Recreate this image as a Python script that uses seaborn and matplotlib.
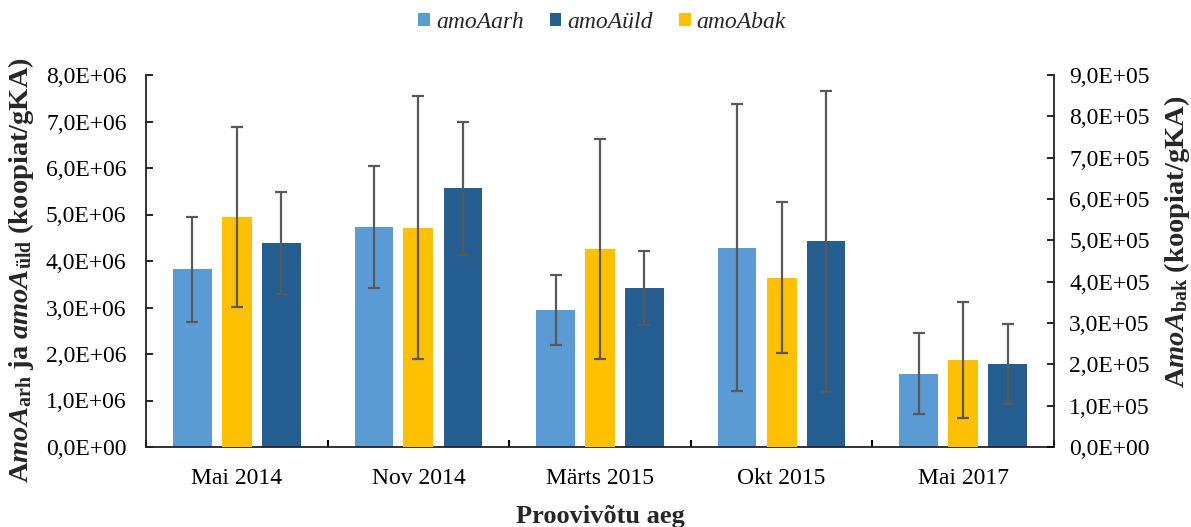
import matplotlib
matplotlib.use("Agg")
import matplotlib.pyplot as plt
import matplotlib.ticker as mticker
from matplotlib.patches import Patch
import seaborn as sns
import pandas as pd

# Sampling dates
categories = ["Mai 2014", "Nov 2014", "Märts 2015", "Okt 2015", "Mai 2017"]

# Gene copy numbers (copies per g dry soil) and their standard deviations
arh = [3.82e6, 4.73e6, 2.94e6, 4.29e6, 1.58e6]
arh_err = [1.13e6, 1.31e6, 0.755e6, 3.08e6, 0.87e6]
uld = [4.38e6, 5.56e6, 3.42e6, 4.42e6, 1.78e6]
uld_err = [1.10e6, 1.43e6, 0.79e6, 3.23e6, 0.855e6]
bak = [5.56e5, 5.31e5, 4.79e5, 4.10e5, 2.11e5]
bak_err = [2.18e5, 3.19e5, 2.65e5, 1.82e5, 1.40e5]

series_names = ["amoAarh", "amoAüld", "amoAbak"]
colors = {"amoAarh": "#5B9BD5", "amoAüld": "#255E91", "amoAbak": "#FFC000"}
err_color = "#595959"

sns.set_theme(style="white")
plt.rcParams["font.family"] = ["Liberation Serif", "DejaVu Serif"]
plt.rcParams["mathtext.fontset"] = "custom"
plt.rcParams["mathtext.rm"] = "Liberation Serif"
plt.rcParams["mathtext.it"] = "Liberation Serif:italic"
plt.rcParams["mathtext.bf"] = "Liberation Serif:bold"
plt.rcParams["mathtext.bfit"] = "Liberation Serif:italic:bold"

fig = plt.figure(figsize=(11.91, 5.27), dpi=100)
ax = fig.add_axes([146 / 1191, 1 - 447 / 527, 908 / 1191, 372 / 527])
ax2 = ax.twinx()

# Primary axis: arh and üld side by side
df_main = pd.DataFrame({
    "aeg": categories * 2,
    "seeria": ["amoAarh"] * len(categories) + ["amoAüld"] * len(categories),
    "vaartus": arh + uld,
})
sns.barplot(data=df_main, x="aeg", y="vaartus", hue="seeria",
            hue_order=["amoAarh", "amoAüld"], palette=colors, saturation=1,
            width=0.98, gap=0.565, errorbar=None, ax=ax,
            edgecolor="none", legend=False, order=categories)

# Secondary axis: bak in the middle, narrower
df_bak = pd.DataFrame({"aeg": categories, "vaartus": bak})
sns.barplot(data=df_bak, x="aeg", y="vaartus", color=colors["amoAbak"],
            saturation=1, width=0.165, errorbar=None, ax=ax2,
            edgecolor="none", order=categories)

err_kw = dict(fmt="none", ecolor=err_color, elinewidth=1.6,
              capsize=4.5, capthick=1.6, zorder=5)

n = len(categories)
patches = ax.patches
arh_x = [p.get_x() + p.get_width() / 2 for p in patches[:n]]
uld_x = [p.get_x() + p.get_width() / 2 for p in patches[n:2 * n]]
bak_x = [p.get_x() + p.get_width() / 2 for p in ax2.patches[:n]]
ax.errorbar(arh_x, arh, yerr=arh_err, **err_kw)
ax.errorbar(uld_x, uld, yerr=uld_err, **err_kw)
ax2.errorbar(bak_x, bak, yerr=bak_err, **err_kw)

# Axis limits and tick formatting
ax.set_xlim(-0.5, n - 0.5)
ax.set_ylim(0, 8e6)
ax.yaxis.set_major_locator(mticker.MultipleLocator(1e6))
ax2.set_ylim(0, 9e5)
ax2.yaxis.set_major_locator(mticker.MultipleLocator(1e5))


def sci_comma(v, pos):
    return f"{v:.1E}".replace(".", ",")


ax.yaxis.set_major_formatter(mticker.FuncFormatter(sci_comma))
ax2.yaxis.set_major_formatter(mticker.FuncFormatter(sci_comma))

fs = 17
ax.tick_params(axis="y", direction="in", length=5, width=1.2,
               labelsize=fs, pad=14, colors="black", left=True)
ax2.tick_params(axis="y", direction="in", length=5, width=1.2,
                labelsize=fs, pad=11, colors="black", right=True)
ax.set_xticks(range(n))
ax.set_xticklabels(categories)
ax.tick_params(axis="x", length=0, labelsize=fs, pad=15, colors="black")
ax.set_xticks([i - 0.5 for i in range(n + 1)], minor=True)
ax.tick_params(axis="x", which="minor", direction="in", length=5,
               width=1.5, bottom=True, color="black")

for a in (ax, ax2):
    a.spines["top"].set_visible(False)
    for s in ("left", "right", "bottom"):
        a.spines[s].set_color("#222222")
        a.spines[s].set_linewidth(1.3)
ax.spines["right"].set_visible(False)
ax2.spines["left"].set_visible(False)
ax2.spines["bottom"].set_visible(False)
ax.grid(False)
ax2.grid(False)

ax.set_xlabel("Proovivõtu aeg", fontsize=19, fontweight="bold", labelpad=12)
ax.set_ylabel(r"$\mathbf{A}\mathbfit{moA}_{\mathbf{arh}}\ \mathbf{ja}\ "
              r"\mathbfit{amoA}_{\mathbf{üld}}\ \mathbf{(koopiat/gKA)}$",
              fontsize=20.5, va="center")
ax.yaxis.set_label_coords(-0.1377, 0.476)
ax2.set_ylabel(r"$\mathbf{A}\mathbfit{moA}_{\mathbf{bak}}\ \mathbf{(koopiat/gKA)}$",
               fontsize=20.5, va="center")
ax2.yaxis.set_label_coords(1.1355, 0.551)

handles = [Patch(facecolor=colors[s], edgecolor="none") for s in series_names]
fig.legend(handles, series_names, loc="center",
           bbox_to_anchor=(0.5055, 0.958), ncol=3, frameon=False,
           prop={"family": "Liberation Serif", "style": "italic", "size": fs},
           handlelength=0.5, handleheight=0.5, handletextpad=0.25,
           columnspacing=1.1, borderpad=0, borderaxespad=0)

fig.savefig("out.png", dpi=100)
